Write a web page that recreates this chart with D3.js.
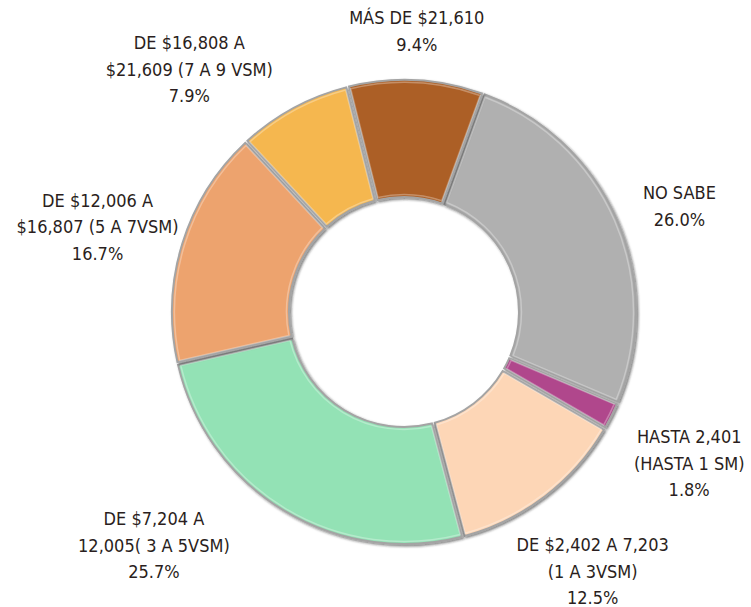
<!DOCTYPE html>
<html>
<head>
<meta charset="utf-8">
<script src="https://cdn.jsdelivr.net/npm/d3@7"></script>
<style>
  body { margin: 0; background: #fff; }
  text { font-family: "Liberation Sans Narrow", "DejaVu Sans Condensed", "Roboto", sans-serif; font-size: 18px; fill: #2a1e20; }
</style>
</head>
<body>
<svg id="chart" width="751" height="607"></svg>
<script>
// slices in clockwise order, starting from the grey one
const categories = ["NO SABE", "HASTA 2,401 (HASTA 1 SM)", "DE $2,402 A 7,203 (1 A 3VSM)",
  "DE $7,204 A 12,005( 3 A 5VSM)", "DE $12,006 A $16,807 (5 A 7VSM)",
  "DE $16,808 A $21,609 (7 A 9 VSM)", "MÁS DE $21,610"];
const values = [26.0, 1.8, 12.5, 25.7, 16.7, 7.9, 9.4];
const labelLines = [
  ["NO SABE"],
  ["HASTA 2,401", "(HASTA 1 SM)"],
  ["DE $2,402 A 7,203", "(1 A 3VSM)"],
  ["DE $7,204 A", "12,005( 3 A 5VSM)"],
  ["DE $12,006 A", "$16,807 (5 A 7VSM)"],
  ["DE $16,808 A", "$21,609 (7 A 9 VSM)"],
  ["MÁS DE $21,610"]
];
const colors = ["#b0b0b0", "#b0468c", "#fdd6b6", "#93e2b5", "#eda36e", "#f5b750", "#ac5e25"];

// layout: label placement (degrees from 12 o'clock, radius)
const labelAngle = [69, 118, 144, 227, 285.5, 318.5, 2.6];
const labelRadius = [295, 323, 321, 342, 318, 324, 281];

const svg = d3.select("#chart");
const cx = 404, cy = 312;
const outerR = 232, innerR = 115;
const startDeg = 20;

const defs = svg.append("defs");
const f = defs.append("filter").attr("id", "bevel")
  .attr("x", "-10%").attr("y", "-10%").attr("width", "120%").attr("height", "120%");
f.append("feDropShadow").attr("dx", 1.5).attr("dy", 1.5).attr("stdDeviation", 1.2)
  .attr("flood-color", "#222").attr("flood-opacity", 0.55);

const pie = d3.pie().sort(null).value(d => d)
  .startAngle(startDeg * Math.PI / 180)
  .endAngle((startDeg + 360) * Math.PI / 180)
  .padAngle(0.012);
const arcs = pie(values);

const arc = d3.arc().innerRadius(innerR).outerRadius(outerR);

const g = svg.append("g").attr("transform", `translate(${cx},${cy})`);

g.selectAll("path.slice")
  .data(arcs)
  .enter().append("path")
  .attr("class", "slice")
  .attr("d", arc)
  .attr("fill", (d, i) => colors[i])
  .attr("stroke", "#a4a4a4")
  .attr("stroke-width", 2)
  .attr("filter", "url(#bevel)");

// thin white highlight along the slice edges
g.selectAll("path.hl")
  .data(arcs)
  .enter().append("path")
  .attr("class", "hl")
  .attr("d", d3.arc().innerRadius(innerR + 2.5).outerRadius(outerR - 2.5).padAngle(0.02))
  .attr("fill", "none")
  .attr("stroke", "rgba(255,255,255,0.3)")
  .attr("stroke-width", 1.5);

const lineH = 26.5;
g.selectAll("text.lbl")
  .data(arcs)
  .enter().append("text")
  .attr("class", "lbl")
  .attr("text-anchor", "middle")
  .each(function (d, i) {
    const a = labelAngle[i] * Math.PI / 180;
    const x = Math.sin(a) * labelRadius[i];
    const y = -Math.cos(a) * labelRadius[i];
    const lines = labelLines[i].concat([d3.format(".1f")(values[i]) + "%"]);
    const y0 = y - (lines.length - 1) * lineH / 2;
    const t = d3.select(this);
    lines.forEach((s, k) => {
      t.append("tspan").attr("x", x).attr("y", y0 + k * lineH).attr("dy", "0.35em").text(s);
    });
  });
</script>
</body>
</html>
